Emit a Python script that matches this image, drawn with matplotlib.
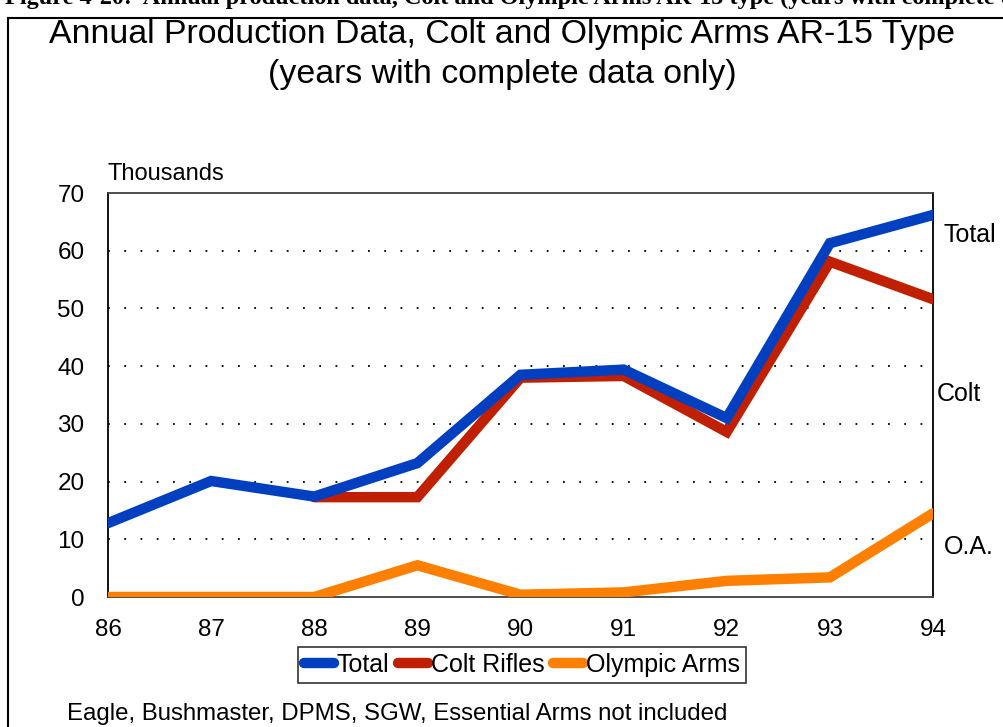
import matplotlib
matplotlib.use('Agg')
import matplotlib.pyplot as plt
from matplotlib.lines import Line2D
import numpy as np

# data (thousands of rifles)
years = [86, 87, 88, 89, 90, 91, 92, 93, 94]
year_labels = ['86', '87', '88', '89', '90', '91', '92', '93', '94']
total = [12.8, 20.1, 17.4, 23.2, 38.5, 39.4, 31.0, 61.3, 66.2]
colt = [np.nan, np.nan, 17.3, 17.3, 38.0, 38.3, 28.6, 58.1, 51.6]
olympic = [0.0, 0.0, 0.0, 5.5, 0.4, 0.8, 2.8, 3.4, 14.5]
yticks = [0, 10, 20, 30, 40, 50, 60, 70]

plt.rcParams['font.family'] = ['Liberation Sans', 'DejaVu Sans']

fig = plt.figure(figsize=(10.04, 7.27), dpi=100)
fig.patch.set_facecolor('white')

# caption of the page, cut off at the top edge
fig.text(5 / 1004, 1 - 4 / 727,
         'Figure 4-20:  Annual production data, Colt and Olympic Arms AR-15 type (years with complete data only)',
         family='Liberation Serif', fontweight='bold', fontsize=17.5,
         ha='left', va='baseline')

# frame around the chart
fig.add_artist(Line2D([8 / 1004, 8 / 1004], [0, 1 - 18 / 727], transform=fig.transFigure,
                      color='black', lw=1.5))
fig.add_artist(Line2D([8 / 1004, 1], [1 - 18 / 727, 1 - 18 / 727], transform=fig.transFigure,
                      color='black', lw=1.5))

fig.text(0.5, 1 - 35 / 727, 'Annual Production Data, Colt and Olympic Arms AR-15 Type',
         ha='center', va='center', fontsize=24.4)
fig.text(0.5, 1 - 75 / 727, '(years with complete data only)',
         ha='center', va='center', fontsize=24.4)

ax = fig.add_axes([108 / 1004, 1 - 597 / 727, 825 / 1004, 404 / 727])

ax.plot(years, olympic, color='#FF8000', lw=7.5, solid_capstyle='round',
        solid_joinstyle='miter', label='Olympic Arms', zorder=3)
ax.plot(years, colt, color='#C02000', lw=7.5, solid_capstyle='round',
        solid_joinstyle='miter', label='Colt Rifles', zorder=4)
ax.plot(years, total, color='#0040C0', lw=7.5, solid_capstyle='round',
        solid_joinstyle='miter', label='Total', zorder=5)

ax.set_xlim(86, 94)
ax.set_ylim(0, 70)
ax.set_xticks(years)
ax.set_xticklabels(year_labels, fontsize=17.5)
ax.set_yticks(yticks)
ax.set_yticklabels([str(v) for v in yticks], fontsize=17.5)
ax.tick_params(axis='y', length=0, pad=17)
ax.tick_params(axis='x', length=0, pad=16)

for v in yticks[1:-1]:
    ax.axhline(v, color='black', lw=1.3, ls=(0, (1, 8)), zorder=1)

ax.spines['left'].set_color('black')
ax.spines['right'].set_color('black')
ax.spines['top'].set_color('#404040')
ax.spines['bottom'].set_color('#404040')
for s in ax.spines.values():
    s.set_linewidth(1.3)
    s.set_zorder(2)

ax.text(0, 1.02, 'Thousands', transform=ax.transAxes, fontsize=17,
        ha='left', va='bottom')

# labels at the right end of the lines
ax.text(944 / 1004, 1 - 235 / 727, 'Total', transform=fig.transFigure,
        fontsize=18, ha='left', va='center')
ax.text(937 / 1004, 1 - 394 / 727, 'Colt', transform=fig.transFigure,
        fontsize=18, ha='left', va='center')
ax.text(944 / 1004, 1 - 547 / 727, 'O.A.', transform=fig.transFigure,
        fontsize=18, ha='left', va='center')

handles, labels = ax.get_legend_handles_labels()
order = [2, 1, 0]
leg = fig.legend([handles[i] for i in order], [labels[i] for i in order],
                 loc='center', bbox_to_anchor=(522 / 1004, 1 - 665 / 727),
                 ncol=3, fontsize=18, frameon=True, fancybox=False,
                 handlelength=1.2, handletextpad=0.1, columnspacing=0.35,
                 borderpad=0.25, borderaxespad=0)
leg.get_frame().set_edgecolor('black')
leg.get_frame().set_linewidth(1.2)

fig.text(67 / 1004, 1 - 714 / 727, 'Eagle, Bushmaster, DPMS, SGW, Essential Arms not included',
         fontsize=17.3, ha='left', va='center')

fig.savefig('out.png', dpi=100)
plt.close(fig)
